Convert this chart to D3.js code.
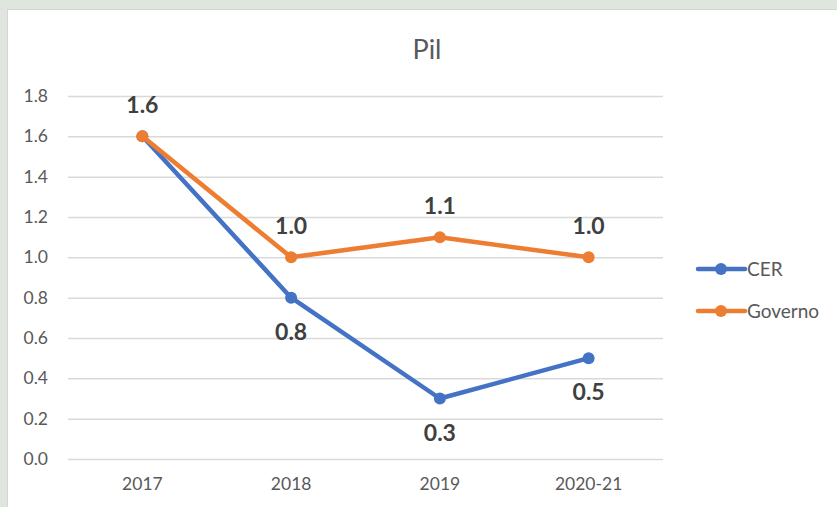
<!DOCTYPE html>
<html><head><meta charset="utf-8">
<script src="https://cdn.jsdelivr.net/npm/d3@7"></script>
<style>html,body{margin:0;padding:0;background:#dfe6de;overflow:hidden}</style>
</head><body>
<script>
const categories = ["2017", "2018", "2019", "2020-21"];
const seriesNames = ["CER", "Governo"];
const cerValues = [1.6, 0.8, 0.3, 0.5];
const governoValues = [1.6, 1.0, 1.1, 1.0];
const yTicks = [0, 0.2, 0.4, 0.6, 0.8, 1.0, 1.2, 1.4, 1.6, 1.8];
const colors = ["#4472C4", "#ED7D31"];

const W = 837, H = 507;
const svg = d3.select("body").append("svg").attr("width", W).attr("height", H);
svg.append("rect").attr("x", 0).attr("y", 0).attr("width", W).attr("height", H).attr("fill", "#dfe6de");
svg.append("rect").attr("x", 7).attr("y", 9).attr("width", W).attr("height", H).attr("fill", "#d4d6d3");
svg.append("rect").attr("x", 8).attr("y", 10).attr("width", W).attr("height", H).attr("fill", "#ffffff");

const font = "Lato, 'Open Sans', sans-serif";
const x = d3.scaleBand().domain(categories).range([68, 663]);
const y = d3.scaleLinear().domain([0, 1.8]).range([459, 96]);

svg.append("text").attr("x", 427).attr("y", 59).attr("text-anchor", "middle")
  .attr("font-family", font).attr("font-size", 27).attr("fill", "#595959").text("Pil");

const yAxis = d3.axisLeft(y).tickValues(yTicks).tickFormat(d3.format(".1f")).tickSize(-(663 - 68)).tickPadding(20);
const gy = svg.append("g").attr("transform", "translate(68,0)").call(yAxis);
gy.select(".domain").remove();
gy.selectAll(".tick line").attr("stroke", "#d9d9d9").attr("stroke-width", 1.5);
gy.selectAll(".tick text").attr("font-family", font).attr("font-size", 17.5).attr("fill", "#595959");

const xAxis = d3.axisBottom(x).tickSize(0).tickPadding(19);
const gx = svg.append("g").attr("transform", "translate(0,459)").call(xAxis);
gx.select(".domain").remove();
gx.selectAll(".tick text").attr("font-family", font).attr("font-size", 17.5).attr("fill", "#595959");

const series = [cerValues, governoValues];
const line = d3.line().x((d, i) => x(categories[i]) + x.bandwidth() / 2).y(d => y(d));
series.forEach((vals, s) => {
  svg.append("path").datum(vals).attr("d", line).attr("fill", "none")
    .attr("stroke", colors[s]).attr("stroke-width", 4.5).attr("stroke-linejoin", "round").attr("stroke-linecap", "round");
  svg.selectAll(null).data(vals).enter().append("circle")
    .attr("cx", (d, i) => x(categories[i]) + x.bandwidth() / 2).attr("cy", d => y(d))
    .attr("r", 6).attr("fill", colors[s]);
});

// data labels
const labelFmt = d3.format(".1f");
cerValues.forEach((v, i) => {
  if (i === 0) return;
  svg.append("text").attr("x", x(categories[i]) + x.bandwidth() / 2).attr("y", y(v) + 42)
    .attr("text-anchor", "middle").attr("font-family", font).attr("font-weight", "bold")
    .attr("font-size", 23).attr("fill", "#404040").text(labelFmt(v));
});
governoValues.forEach((v, i) => {
  svg.append("text").attr("x", x(categories[i]) + x.bandwidth() / 2).attr("y", y(v) - 23)
    .attr("text-anchor", "middle").attr("font-family", font).attr("font-weight", "bold")
    .attr("font-size", 23).attr("fill", "#404040").text(labelFmt(v));
});

// legend
seriesNames.forEach((n, s) => {
  const ly = 269 + s * 42;
  svg.append("line").attr("x1", 698).attr("x2", 745).attr("y1", ly).attr("y2", ly)
    .attr("stroke", colors[s]).attr("stroke-width", 4.5).attr("stroke-linecap", "round");
  svg.append("circle").attr("cx", 721).attr("cy", ly).attr("r", 6).attr("fill", colors[s]);
  svg.append("text").attr("x", 747).attr("y", ly + 6.5).attr("font-family", font)
    .attr("font-size", 19).attr("fill", "#595959").text(n);
});
</script>
</body></html>
